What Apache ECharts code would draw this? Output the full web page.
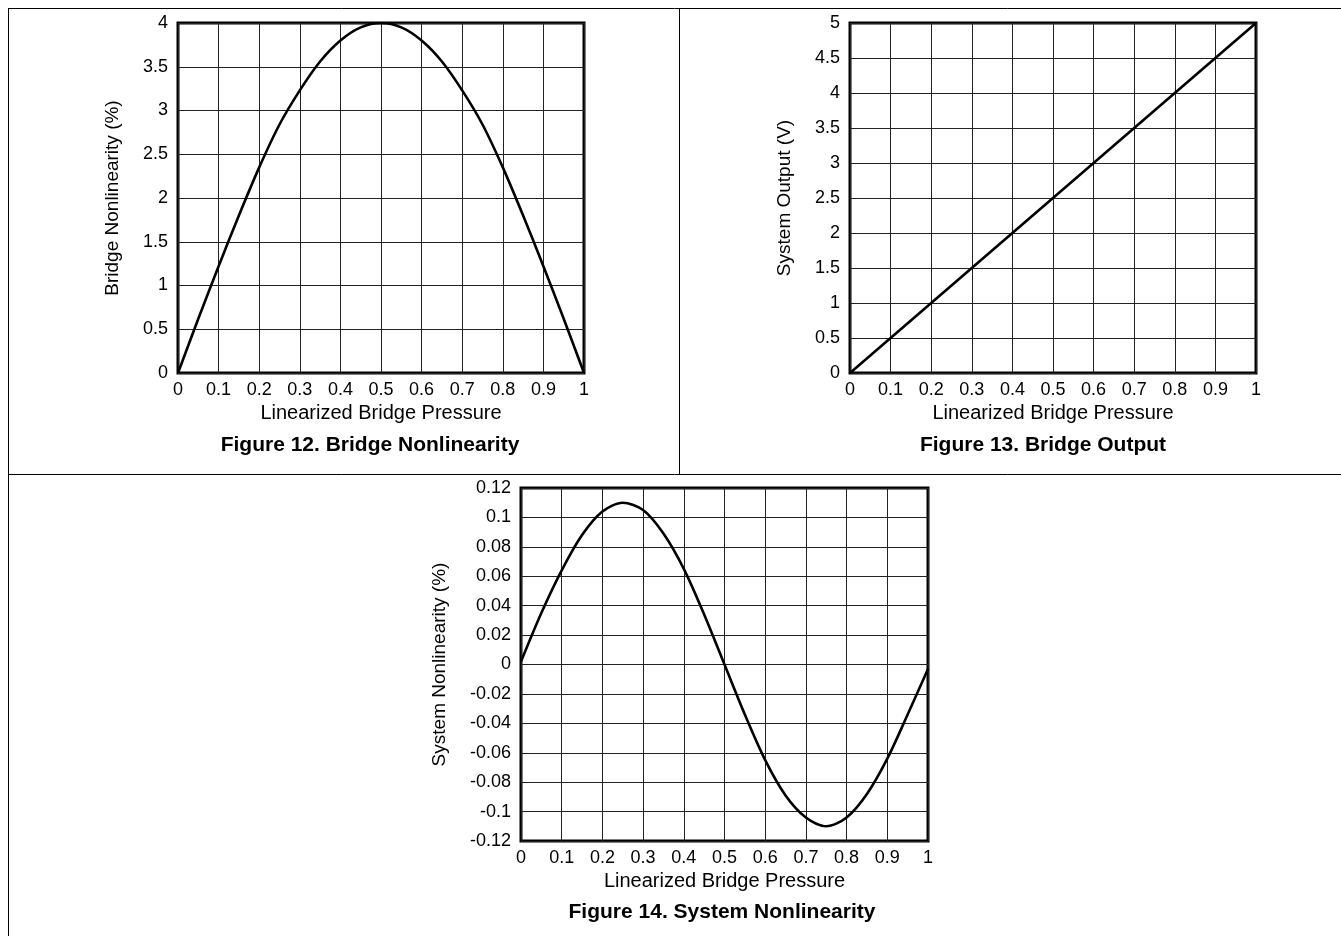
<!DOCTYPE html>
<html>
<head>
<meta charset="utf-8">
<script src="https://cdn.jsdelivr.net/npm/echarts@6/dist/echarts.min.js"></script>
<style>
html,body{margin:0;padding:0;background:#fff;}
#main{width:1341px;height:936px;}
</style>
</head>
<body>
<div id="main"></div>
<script>
// ---- Data ----
var xValues = [0,0.05,0.1,0.15,0.2,0.25,0.3,0.35,0.4,0.45,0.5,0.55,0.6,0.65,0.7,0.75,0.8,0.85,0.9,0.95,1];
var bridgeNonlinearity = [0,0.62,1.22,1.8,2.35,2.84,3.23,3.56,3.8,3.95,4.0,3.95,3.8,3.56,3.23,2.84,2.35,1.8,1.22,0.62,0];
var outputX = [0,0.1,0.2,0.3,0.4,0.5,0.6,0.7,0.8,0.9,1];
var systemOutput = [0,0.5,1,1.5,2,2.5,3,3.5,4,4.5,5];
var systemNonlinearity = [0.002,0.035,0.064,0.088,0.104,0.110,0.105,0.089,0.065,0.034,0.000,-0.034,-0.065,-0.089,-0.104,-0.110,-0.104,-0.088,-0.064,-0.034,-0.003];

var xAxisName = 'Linearized Bridge Pressure';
var yNames = ['Bridge Nonlinearity (%)', 'System Output (V)', 'System Nonlinearity (%)'];
var captions = ['Figure 12. Bridge Nonlinearity', 'Figure 13. Bridge Output', 'Figure 14. System Nonlinearity'];

function pairs(xs, ys){ return xs.map(function(x,i){ return [x, ys[i]]; }); }

var FONT = 'Liberation Sans, Arial, Helvetica, sans-serif';
var chart = echarts.init(document.getElementById('main'), null, {renderer:'canvas'});

var grids = [
  {left:178, top:23, width:406, height:350},
  {left:850, top:23, width:406, height:350},
  {left:521, top:488, width:407, height:353}
];
var yGaps = [56, 56, 72];

function xAx(i){
  return {
    type:'value', gridIndex:i, min:0, max:1, interval:0.1,
    name: xAxisName, nameLocation:'middle', nameGap:30,
    nameTextStyle:{fontFamily:FONT, fontSize:20, color:'#000'},
    axisLine:{show:false}, axisTick:{show:false},
    axisLabel:{fontFamily:FONT, fontSize:18, color:'#000', margin:8},
    splitLine:{show:true, lineStyle:{color:'#222', width:1}}
  };
}
function yAx(i, min, max, interval){
  return {
    type:'value', gridIndex:i, min:min, max:max, interval:interval,
    name: yNames[i], nameLocation:'middle', nameGap:yGaps[i],
    nameTextStyle:{fontFamily:FONT, fontSize:19, color:'#000'},
    axisLine:{show:false}, axisTick:{show:false},
    axisLabel:{fontFamily:FONT, fontSize:18, color:'#000', margin:10},
    splitLine:{show:true, lineStyle:{color:'#222', width:1}}
  };
}

var lineStyle = {color:'#000', width:2.6};

var option = {
  animation:false,
  backgroundColor:'#fff',
  grid: grids.map(function(g){ return Object.assign({show:true, borderColor:'#000', borderWidth:3, backgroundColor:'transparent', containLabel:false}, g); }),
  xAxis:[xAx(0), xAx(1), xAx(2)],
  yAxis:[yAx(0,0,4,0.5), yAx(1,0,5,0.5), yAx(2,-0.12,0.12,0.02)],
  series:[
    {type:'line', xAxisIndex:0, yAxisIndex:0, data:pairs(xValues,bridgeNonlinearity), showSymbol:false, smooth:0.3, lineStyle:lineStyle, itemStyle:{color:'#000'}},
    {type:'line', xAxisIndex:1, yAxisIndex:1, data:pairs(outputX,systemOutput), showSymbol:false, lineStyle:lineStyle, itemStyle:{color:'#000'}},
    {type:'line', xAxisIndex:2, yAxisIndex:2, data:pairs(xValues,systemNonlinearity), showSymbol:false, smooth:0.3, lineStyle:lineStyle, itemStyle:{color:'#000'}}
  ],
  graphic:[
    {type:'line', shape:{x1:8, y1:8.5, x2:1341, y2:8.5}, style:{stroke:'#000', lineWidth:1}},
    {type:'line', shape:{x1:8.5, y1:8, x2:8.5, y2:936}, style:{stroke:'#000', lineWidth:1}},
    {type:'line', shape:{x1:679.5, y1:8, x2:679.5, y2:474}, style:{stroke:'#000', lineWidth:1}},
    {type:'line', shape:{x1:8, y1:474.5, x2:1341, y2:474.5}, style:{stroke:'#000', lineWidth:1}},
    {type:'text', x:370, y:445, style:{text:captions[0], font:'bold 21px '+FONT, fill:'#000', textAlign:'center', textVerticalAlign:'middle'}},
    {type:'text', x:1043, y:445, style:{text:captions[1], font:'bold 21px '+FONT, fill:'#000', textAlign:'center', textVerticalAlign:'middle'}},
    {type:'text', x:722, y:912, style:{text:captions[2], font:'bold 21px '+FONT, fill:'#000', textAlign:'center', textVerticalAlign:'middle'}}
  ]
};
chart.setOption(option);
</script>
</body>
</html>
